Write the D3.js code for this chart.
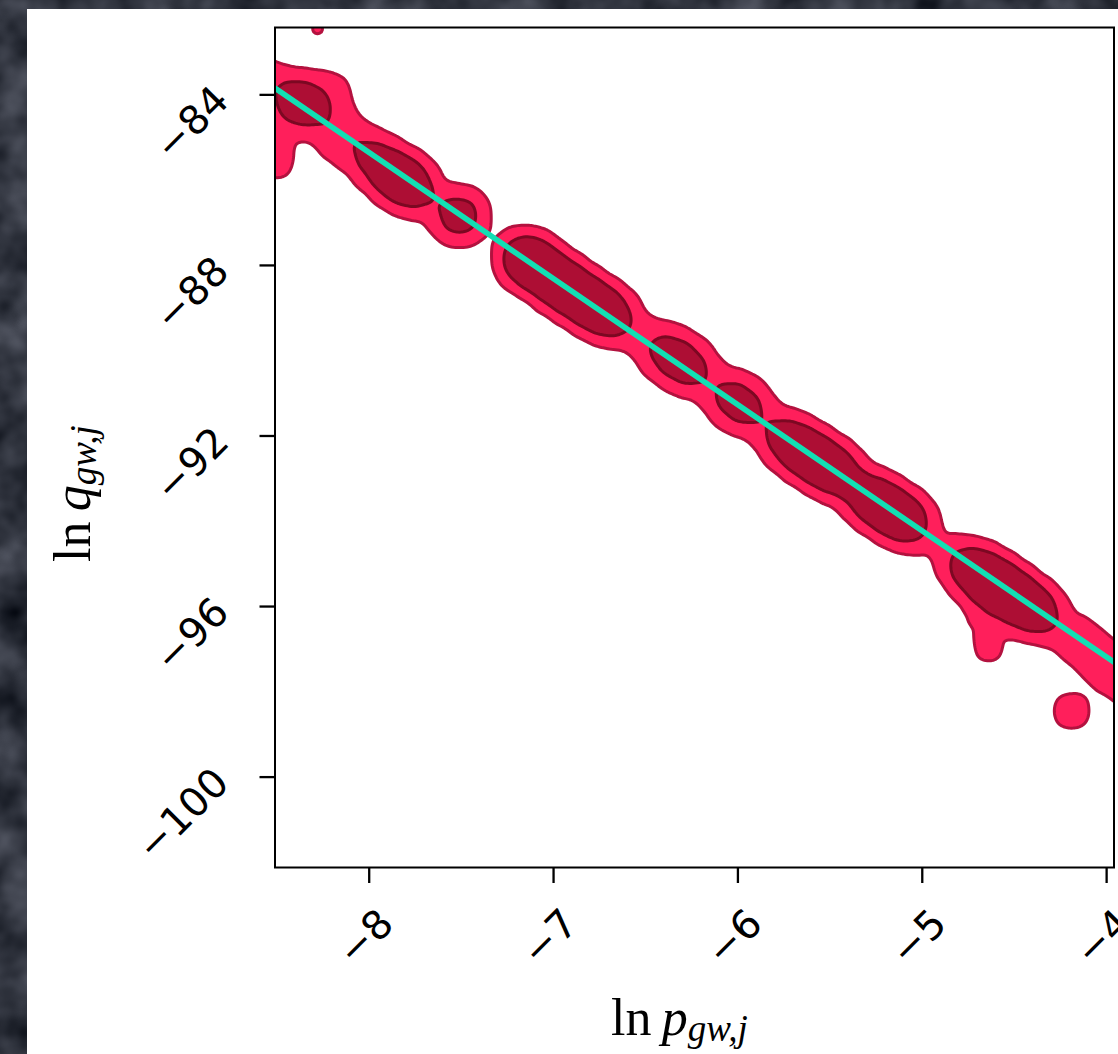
<!DOCTYPE html>
<html>
<head>
<meta charset="utf-8">
<script src="https://cdn.jsdelivr.net/npm/d3@7"></script>
<style>
  html, body { margin: 0; padding: 0; background: #2e323c; }
  svg { display: block; }
</style>
</head>
<body>
<div id="chart"></div>
<script>
// posterior samples (ln p, ln q) with weights
const sampleLnP = [-8.62, -8.51, -8.39, -8.31, -8.50, -8.50, -8.21, -8.12, -8.21, -8.17,
  -8.00, -7.90, -7.80, -7.70, -7.51,
  -7.17, -7.11, -7.01, -6.92, -6.82, -6.72, -6.62,
  -6.44, -6.34, -6.24, -6.05, -5.95,
  -5.77, -5.67, -5.57, -5.47, -5.38, -5.28, -5.18, -5.08, -4.99, -4.89,
  -4.77, -4.67, -4.57, -4.48, -4.38, -4.67, -4.64,
  -4.28, -4.18, -4.09, -3.99, -3.89, -3.79, -4.19, -8.28];
const sampleLnQ = [-83.53, -83.84, -84.14, -84.35, -84.94, -85.64, -84.54, -84.94, -83.93, -85.10,
  -85.41, -85.76, -86.06, -86.39, -86.84,
  -87.80, -87.96, -88.27, -88.55, -88.83, -89.11, -89.37,
  -89.89, -90.17, -90.47, -91.06, -91.36,
  -91.97, -92.28, -92.56, -92.84, -93.15, -93.45, -93.73, -94.01, -94.32, -94.62,
  -95.02, -95.26, -95.56, -95.84, -96.12, -96.08, -96.97,
  -96.43, -96.69, -97.04, -97.39, -97.72, -98.05, -98.45, -82.45];
const sampleW = [0.6, 0.6, 2.8, 1.2, 0.45, 0.45, 0.5, 0.5, 0.6, 0.6,
  1.6, 2.6, 3.6, 1.0, 2.9,
  2.4, 3.4, 3.5, 3.5, 3.5, 3.4, 1.0,
  1.2, 2.3, 1.8, 1.8, 2.0,
  1.8, 3.2, 3.4, 3.1, 0.9, 3.0, 3.4, 3.0, 0.2, 0.2,
  1.9, 3.6, 4.0, 3.5, 3.0, 0.5, 0.45,
  0.35, 0.65, 0.65, 0.75, 0.75, 0.75, 0.6, 0.345];

// fitted relation
const fitLnP = [-8.6, -3.9];
const fitLnQ = [-83.58, -97.48];

const xTicks = [-8, -7, -6, -5, -4];
const yTicks = [-84, -88, -92, -96, -100];
const xDomain = [-8.511, -3.960];
const yDomain = [-102.12, -82.42];

const W = 1118, H = 1054;
const x0 = 275, x1 = 1114, y0 = 27.5, y1 = 867.5;
const pw = x1 - x0, ph = y1 - y0;

const x = d3.scaleLinear().domain(xDomain).range([x0, x1]);
const y = d3.scaleLinear().domain(yDomain).range([y1, y0]);

const svg = d3.select("#chart").append("svg")
    .attr("width", W)
    .attr("height", H);

const defs = svg.append("defs");

// grainy dark backdrop
const grain = defs.append("filter").attr("id", "grain")
    .attr("x", 0).attr("y", 0).attr("width", "100%").attr("height", "100%")
    .attr("color-interpolation-filters", "sRGB");
grain.append("feTurbulence")
    .attr("type", "fractalNoise")
    .attr("baseFrequency", 0.022)
    .attr("numOctaves", 3)
    .attr("seed", 7);
grain.append("feColorMatrix")
    .attr("type", "matrix")
    .attr("values", "0.4 0 0 0 -0.01  0.4 0 0 0 0.005  0.42 0 0 0 0.035  0 0 0 0 1");

svg.append("rect").attr("width", W).attr("height", H).attr("fill", "#2e323c");
svg.append("rect").attr("width", W).attr("height", H).attr("filter", "url(#grain)");

// white panel
svg.append("rect")
    .attr("x", 27).attr("y", 9)
    .attr("width", W - 27).attr("height", H - 9)
    .attr("fill", "#ffffff");

defs.append("clipPath").attr("id", "plotclip")
  .append("rect").attr("width", pw).attr("height", ph);

const plot = svg.append("g")
    .attr("transform", `translate(${x0},${y0})`);

const inner = plot.append("g").attr("clip-path", "url(#plotclip)");

// density contours
const pts = sampleLnP.map((p, i) => ({p: p, q: sampleLnQ[i], w: sampleW[i]}));

const levels = [0.00022, 0.00115];

const contours = d3.contourDensity()
    .x(d => x(d.p) - x0)
    .y(d => y(d.q) - y0)
    .weight(d => d.w)
    .size([pw, ph])
    .cellSize(2)
    .bandwidth(14)
    .thresholds(levels)
  (pts);

const fills = ["#ff1f5b", "#ad0e34"];
const strokes = ["#b3123f", "#7c0822"];

inner.selectAll("path.kde")
  .data(contours)
  .join("path")
    .attr("class", "kde")
    .attr("d", d3.geoPath())
    .attr("fill", (d, i) => fills[i])
    .attr("stroke", (d, i) => strokes[i])
    .attr("stroke-width", 3)
    .attr("stroke-linejoin", "round");

// fit line
const line = d3.line()
    .x(d => x(d[0]) - x0)
    .y(d => y(d[1]) - y0);

inner.append("path")
    .datum(fitLnP.map((p, i) => [p, fitLnQ[i]]))
    .attr("d", line)
    .attr("fill", "none")
    .attr("stroke", "#12dfb3")
    .attr("stroke-width", 5.5);

// frame
svg.append("rect")
    .attr("x", x0).attr("y", y0)
    .attr("width", pw).attr("height", ph)
    .attr("fill", "none")
    .attr("stroke", "#000")
    .attr("stroke-width", 2);

// ticks
svg.selectAll("line.xt")
  .data(xTicks)
  .join("line")
    .attr("class", "xt")
    .attr("x1", d => x(d)).attr("x2", d => x(d))
    .attr("y1", y1).attr("y2", y1 + 15.5)
    .attr("stroke", "#000").attr("stroke-width", 2.3);

svg.selectAll("line.yt")
  .data(yTicks)
  .join("line")
    .attr("class", "yt")
    .attr("y1", d => y(d)).attr("y2", d => y(d))
    .attr("x1", x0).attr("x2", x0 - 15.5)
    .attr("stroke", "#000").attr("stroke-width", 2.3);

const fmt = d => (d < 0 ? "\u2212" : "") + Math.abs(d);

svg.selectAll("text.xl")
  .data(xTicks)
  .join("text")
    .attr("class", "xl")
    .attr("transform", d => `translate(${x(d) + 26.5},926) rotate(-45)`)
    .attr("text-anchor", "end")
    .attr("font-family", "DejaVu Sans")
    .attr("font-size", 40)
    .attr("fill", "#000")
    .text(fmt);

svg.selectAll("text.yl")
  .data(yTicks)
  .join("text")
    .attr("class", "yl")
    .attr("transform", d => `translate(231,${y(d) + 8}) rotate(-45)`)
    .attr("text-anchor", "end")
    .attr("font-family", "DejaVu Sans")
    .attr("font-size", 40)
    .attr("fill", "#000")
    .text(fmt);

// axis labels
const xlab = svg.append("text")
    .attr("x", 611).attr("y", 1035)
    .attr("font-family", "Liberation Serif")
    .attr("font-size", 52)
    .attr("fill", "#000");
xlab.append("tspan").text("ln\u2009");
xlab.append("tspan").attr("font-style", "italic").text("p");
xlab.append("tspan").attr("font-style", "italic").attr("font-size", 37).attr("dy", 6).text("gw,j");

const ylab = svg.append("text")
    .attr("transform", "translate(90,562) rotate(-90)")
    .attr("font-family", "Liberation Serif")
    .attr("font-size", 52)
    .attr("fill", "#000");
ylab.append("tspan").text("ln\u2009");
ylab.append("tspan").attr("font-style", "italic").text("q");
ylab.append("tspan").attr("font-style", "italic").attr("font-size", 37).attr("dy", 6).text("gw,j");
</script>
</body>
</html>
